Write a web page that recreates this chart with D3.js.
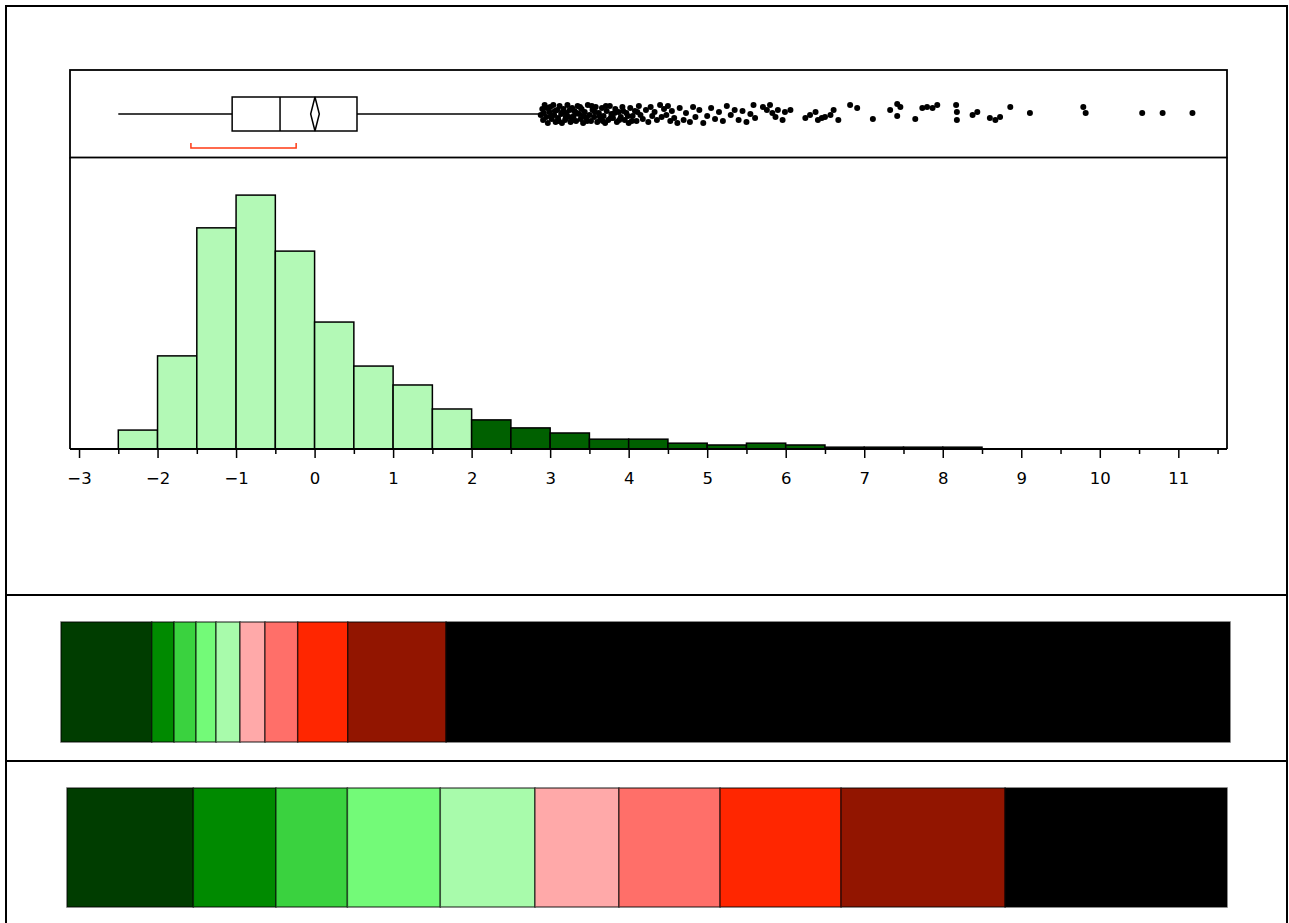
<!DOCTYPE html>
<html><head><meta charset="utf-8">
<script src="https://cdn.jsdelivr.net/npm/d3@7"></script>
<style>body{margin:0;background:#fff}svg{display:block}</style>
</head><body>
<svg id="c" width="1289" height="923"></svg>
<script>
// ---------- data ----------
const binStarts = [-2.5,-2,-1.5,-1,-0.5,0,0.5,1,1.5,2,2.5,3,3.5,4,4.5,5,5.5,6,6.5,7,7.5,8];
const binWidth = 0.5;
const binCounts = [52,256,608,698,544,349,228,176,110,80,58,44,27,27,16,11,16,11,5,5,5,5];
const highlightFrom = 2; // bins at or above this value are dark green

const majorTicks = [-3,-2,-1,0,1,2,3,4,5,6,7,8,9,10,11];
const minorTicks = [-2.5,-1.5,-0.5,0.5,1.5,2.5,3.5,4.5,5.5,6.5,7.5,8.5,9.5,10.5,11.5];

// box plot summary
const whiskerLow = -2.5, q1 = -1.05, median = -0.44, q3 = 0.54, whiskerHigh = 2.87;
const meanVal = 0.005, meanCI = [-0.05, 0.06];
const shortestHalf = [-1.575, -0.235];

// outliers: [value, jitter (-1..1)]
const outliers = [
[2.88,0.1],[2.90,-0.5],[2.91,0.6],[2.93,-0.9],[2.95,0.3],[2.97,0.9],[2.99,-0.2],[3.00,-0.7],[3.02,0.5],[3.04,-0.9],
[3.05,0.1],[3.07,0.8],[3.09,-0.4],[3.10,0.4],[3.12,-0.8],[3.14,0.0],[3.15,0.9],[3.17,-0.5],[3.19,0.6],[3.21,-0.1],
[3.22,-0.9],[3.24,0.3],[3.26,0.8],[3.28,-0.6],[3.30,0.2],[3.31,-0.3],[3.33,0.7],[3.35,-0.8],[3.37,0.0],[3.39,0.5],
[3.40,-0.5],[3.42,0.9],[3.44,-0.2],[3.46,0.4],[3.48,-0.9],[3.50,0.1],[3.52,0.7],[3.54,-0.4],[3.56,0.3],[3.58,-0.7],
[3.60,0.8],[3.62,-0.1],[3.64,0.5],[3.66,-0.6],[3.68,0.2],[3.70,0.9],[3.72,-0.3],[3.74,0.6],[3.76,-0.8],[3.78,0.0],
[3.80,0.4],[3.83,-0.5],[3.85,0.8],[3.87,-0.2],[3.90,0.3],[3.92,-0.7],[3.95,0.6],[3.97,-0.1],[4.00,0.9],[4.02,-0.6],
[4.05,0.2],[4.08,-0.3],[4.10,0.7],[4.13,-0.8],[4.15,0.1],
[2.92,-0.1],[2.96,-0.6],[3.01,0.2],[3.06,-0.3],[3.11,0.7],[3.16,-0.2],[3.20,0.3],[3.25,-0.4],[3.29,0.6],[3.34,-0.1],
[3.38,-0.7],[3.43,0.2],[3.47,0.7],[3.53,-0.8],[3.57,-0.2],[3.63,0.2],[3.67,0.7],[3.71,-0.8],[3.77,0.4],[3.82,-0.1],
[3.88,0.6],[3.93,-0.3],[3.99,0.2],[4.04,0.7],[4.11,-0.2],
[4.18,0.5],[4.22,-0.4],[4.25,0.8],[4.28,-0.7],[4.30,0.2],[4.33,-0.2],[4.36,0.6],[4.40,-0.9],[4.42,0.3],[4.45,-0.5],
[4.48,0.1],[4.50,-0.8],[4.53,0.7],[4.55,-0.3],[4.58,0.4],[4.62,0.9],[4.65,-0.6],[4.70,0.6],[4.73,-0.1],[4.78,0.8],
[4.82,-0.7],[4.85,0.3],[4.90,-0.4],[4.95,0.9],[5.00,0.2],[5.05,-0.6],[5.10,0.5],[5.15,-0.2],[5.20,0.7],[5.25,-0.8],
[5.30,0.1],[5.35,-0.4],[5.40,0.6],[5.45,-0.3],[5.50,0.8],[5.55,0.0],
[5.59,-0.9],[5.61,0.4],[5.71,-0.7],[5.76,-0.4],[5.80,-0.9],[5.83,-0.1],[5.87,0.3],[5.90,-0.4],[5.96,0.6],[5.99,-0.2],
[6.06,-0.4],[6.25,0.4],[6.31,0.1],[6.38,-0.2],[6.41,0.6],[6.46,0.4],[6.50,0.3],[6.57,0.1],[6.61,-0.4],[6.67,0.6],
[6.82,-0.9],[6.91,-0.6],[7.11,0.5],[7.33,-0.4],[7.42,-1.0],[7.46,-0.7],[7.42,0.2],[7.65,0.5],[7.74,-0.6],[7.80,-0.7],
[7.87,-0.6],[7.93,-0.9],[8.17,-0.9],[8.18,-0.2],[8.18,0.6],[8.38,0.1],[8.44,-0.2],[8.60,0.4],[8.67,0.6],[8.73,0.3],
[8.86,-0.7],[9.11,-0.1],[9.79,-0.7],[9.82,-0.1],[10.54,-0.1],[10.80,-0.1],[11.18,-0.1]
];

// colour strips
const stripColors = ["#003d00","#008a00","#3ad23f","#73fa78","#a8fbab","#ffa9a9","#ff6f69","#ff2600","#921500","#000000"];
const strip1Values = [7.76,1.91,1.88,1.71,2.05,2.14,2.80,4.28,8.41,67.06];
const strip2Values = [10.89,7.12,6.16,8.01,8.16,7.24,8.72,10.43,14.14,19.13];

// ---------- drawing ----------
const svg = d3.select("#c");
const FL = 70, FR = 1227;
const x = d3.scaleLinear().domain([-3.115, 11.62]).range([FL, FR]);
const y = d3.scaleLinear().domain([0, 800]).range([449, 158]);

// outer frame & dividers
svg.append("rect").attr("x",6).attr("y",6).attr("width",1281).attr("height",930)
  .attr("fill","none").attr("stroke","#000").attr("stroke-width",2);
[595, 761].forEach(yy => svg.append("line").attr("x1",6).attr("x2",1287).attr("y1",yy).attr("y2",yy)
  .attr("stroke","#000").attr("stroke-width",2));

// histogram bars
svg.append("g").selectAll("rect").data(binStarts).join("rect")
  .attr("x", d => x(d)).attr("width", d => x(d+binWidth) - x(d))
  .attr("y", (d,i) => y(binCounts[i])).attr("height", (d,i) => y(0) - y(binCounts[i]))
  .attr("fill", d => d >= highlightFrom ? "#006000" : "#b3f9b6")
  .attr("stroke","#000").attr("stroke-width",1.5);

// frames
const fr = svg.append("g").attr("fill","none").attr("stroke","#000").attr("stroke-width",1.8);
fr.append("rect").attr("x",FL).attr("y",70).attr("width",FR-FL).attr("height",87.5);
fr.append("line").attr("x1",FL).attr("x2",FL).attr("y1",157.5).attr("y2",449);
fr.append("line").attr("x1",FR).attr("x2",FR).attr("y1",157.5).attr("y2",449);

// axis
const axMajor = d3.axisBottom(x).tickValues(majorTicks).tickSize(9).tickPadding(14)
  .tickFormat(d => d < 0 ? "\u2212" + Math.abs(d) : String(d));
const axMinor = d3.axisBottom(x).tickValues(minorTicks).tickSize(5).tickFormat("");
const gA = svg.append("g").attr("transform","translate(0,449)").call(axMajor);
const gB = svg.append("g").attr("transform","translate(0,449)").call(axMinor);
[gA,gB].forEach(g => { g.select(".domain").remove(); g.selectAll("line").attr("stroke","#000").attr("stroke-width",1.5); });
gA.selectAll("text").attr("font-family","DejaVu Sans, sans-serif").attr("font-size",16.5).attr("fill","#000");
svg.append("line").attr("x1",FL).attr("x2",FR).attr("y1",449).attr("y2",449).attr("stroke","#000").attr("stroke-width",1.8);

// box plot
const by = 114, bTop = 97, bBot = 131;
const bp = svg.append("g").attr("stroke","#000").attr("stroke-width",1.5).attr("fill","none");
bp.append("line").attr("x1",x(whiskerLow)).attr("x2",x(q1)).attr("y1",by).attr("y2",by);
bp.append("line").attr("x1",x(q3)).attr("x2",x(whiskerHigh)).attr("y1",by).attr("y2",by);
bp.append("rect").attr("x",x(q1)).attr("y",bTop).attr("width",x(q3)-x(q1)).attr("height",bBot-bTop).attr("fill","#fff");
bp.append("line").attr("x1",x(median)).attr("x2",x(median)).attr("y1",bTop).attr("y2",bBot);
bp.append("path").attr("d",`M${x(meanVal)},${bTop}L${x(meanCI[1])},${by}L${x(meanVal)},${bBot}L${x(meanCI[0])},${by}Z`);
svg.append("path").attr("d",`M${x(shortestHalf[0])},143V148H${x(shortestHalf[1])}V143`)
  .attr("fill","none").attr("stroke","#ff3a14").attr("stroke-width",1.5);

// outlier points
svg.append("g").selectAll("circle").data(outliers).join("circle")
  .attr("cx", d => x(d[0])).attr("cy", d => by + d[1]*10).attr("r",3).attr("fill","#000");

// colour strips
function strip(vals, x0, x1, y0, y1){
  const cum = d3.cumsum(vals);
  const s = d3.scaleLinear().domain([0, cum[cum.length-1]]).range([x0, x1]);
  const g = svg.append("g");
  g.selectAll("rect").data(vals).join("rect")
    .attr("x",(d,i)=> s(cum[i]-d)).attr("width",(d,i)=> s(cum[i]) - s(cum[i]-d))
    .attr("y",y0).attr("height",y1-y0)
    .attr("fill",(d,i)=>stripColors[i]).attr("stroke","rgba(0,0,0,0.6)").attr("stroke-width",1.5);
}
strip(strip1Values, 61, 1230, 622, 742);
strip(strip2Values, 67, 1227, 788, 907);
</script>
</body></html>
